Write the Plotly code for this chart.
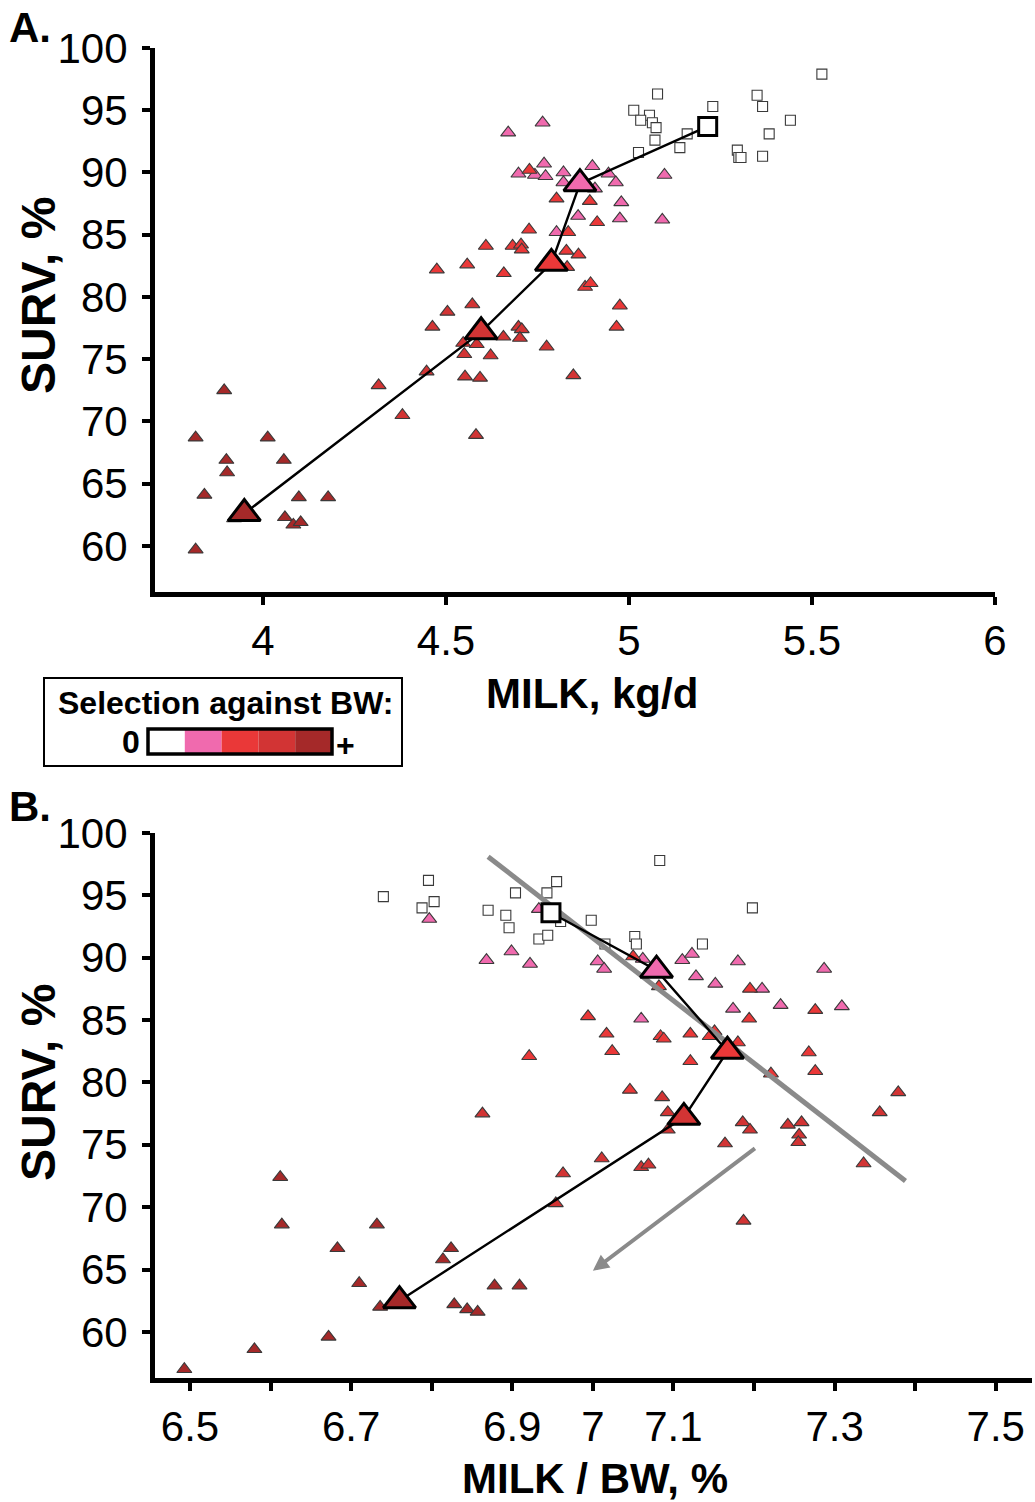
import plotly.graph_objects as go

W, H = 1035, 1502

# ---------------- data ----------------
groups = ["0", "1", "2", "3", "4"]           # selection against BW: 0 ... +
group_colors = ["#ffffff", "#f06aae", "#ea3838", "#d23434", "#a52929"]
group_symbols = ["square", "triangle-up", "triangle-up", "triangle-up", "triangle-up"]

# Panel A: MILK (kg/d) vs SURV (%)
a_x = {
    "0": [5.527, 5.078, 5.013, 5.056, 5.032, 5.064, 5.074, 5.229, 5.350, 5.365,
          5.441, 5.383, 5.296, 5.300, 5.365, 5.071, 5.026, 5.139, 5.159, 5.306],
    "1": [4.670, 4.764, 4.698, 4.768, 4.743, 4.772, 4.821, 4.821, 4.900, 4.944,
          4.964, 5.097, 4.979, 4.861, 4.975, 5.091, 4.802, 4.907],
    "2": [4.728, 4.802, 4.893, 4.913, 4.727, 4.834, 4.829, 4.862, 4.831, 4.609,
          4.682, 4.705, 4.707, 4.558, 4.475, 4.658, 4.880, 4.895, 4.975, 4.966],
    "3": [4.572, 4.504, 4.463, 4.698, 4.707, 4.702, 4.657, 4.547, 4.584, 4.550,
          4.622, 4.775, 4.447, 4.552, 4.593, 4.848, 4.582, 4.381, 4.316],
    "4": [3.816, 3.894, 3.900, 3.902, 3.840, 4.013, 4.057, 4.098, 4.178, 4.060,
          4.083, 4.103, 3.921, 3.816],
}
a_y = {
    "0": [97.9, 96.3, 95.0, 94.6, 94.2, 94.0, 93.6, 95.3, 96.2, 95.3,
          94.2, 93.1, 91.8, 91.2, 91.3, 92.6, 91.6, 92.0, 93.1, 91.2],
    "1": [93.2, 94.0, 89.9, 90.7, 89.8, 89.7, 90.0, 89.2, 90.5, 89.9,
          89.2, 89.8, 87.6, 86.5, 86.3, 86.2, 85.2, 88.7],
    "2": [90.2, 87.9, 87.7, 86.0, 85.4, 85.2, 83.7, 83.4, 82.4, 84.1,
          84.1, 84.2, 83.8, 82.6, 82.2, 81.9, 80.8, 81.1, 79.3, 77.6],
    "3": [79.4, 78.8, 77.6, 77.6, 77.4, 76.7, 76.8, 76.3, 76.2, 75.4,
          75.3, 76.0, 74.0, 73.6, 73.5, 73.7, 68.9, 70.5, 72.9],
    "4": [68.7, 72.5, 66.9, 65.9, 64.1, 68.7, 66.9, 63.9, 63.9, 62.3,
          61.7, 61.9, 62.2, 59.7],
}
a_mean_x = [5.215, 4.866, 4.788, 4.596, 3.949]
a_mean_y = [93.7, 89.1, 82.7, 77.2, 62.6]

# Panel B: MILK / BW (%) vs SURV (%)
b_x = {
    "0": [6.740, 6.796, 6.803, 6.788, 6.870, 6.892, 6.896, 6.904, 6.943, 6.955,
          6.933, 6.944, 6.960, 6.998, 7.015, 7.052, 7.054, 7.198, 7.136, 7.083],
    "1": [6.797, 6.868, 6.899, 6.922, 6.933, 7.006, 7.014, 7.060, 7.062, 7.111,
          7.123, 7.128, 7.180, 7.152, 7.210, 7.233, 7.174, 7.287, 7.309],
    "2": [7.050, 7.082, 7.195, 7.276, 7.194, 7.017, 7.024, 7.084, 7.088, 7.121,
          7.121, 7.151, 7.145, 7.180, 7.268, 7.276, 7.221, 6.994, 6.921, 7.046],
    "3": [7.086, 7.093, 7.093, 7.379, 7.356, 7.186, 7.195, 7.164, 7.242, 7.259,
          7.256, 7.255, 7.336, 7.060, 7.069, 7.011, 6.863, 6.963, 6.954, 7.187],
    "4": [6.612, 6.614, 6.732, 6.683, 6.824, 6.814, 6.710, 6.878, 6.909, 6.736,
          6.828, 6.844, 6.857, 6.672, 6.580, 6.493],
}
b_y = {
    "0": [94.9, 96.2, 94.5, 94.0, 93.8, 93.4, 92.4, 95.2, 95.2, 96.1,
          91.5, 91.8, 92.9, 93.0, 91.1, 91.7, 91.1, 94.0, 91.1, 97.8],
    "1": [93.1, 89.8, 90.5, 89.5, 93.9, 89.7, 89.1, 85.1, 89.9, 89.8,
          90.3, 88.5, 89.7, 87.9, 87.5, 86.2, 85.9, 89.1, 86.1],
    "2": [90.1, 87.7, 87.5, 85.8, 85.1, 83.9, 82.5, 83.7, 83.5, 83.9,
          81.7, 84.1, 83.7, 83.2, 82.4, 80.9, 80.7, 85.3, 82.1, 79.4],
    "3": [78.8, 77.6, 76.2, 79.2, 77.6, 76.8, 76.2, 75.1, 76.6, 76.8,
          75.8, 75.2, 73.5, 73.2, 73.4, 73.9, 77.5, 72.7, 70.3, 68.9],
    "4": [72.4, 68.6, 68.6, 66.7, 66.7, 65.8, 63.9, 63.7, 63.7, 62.0,
          62.2, 61.8, 61.6, 59.6, 58.6, 57.0],
}
b_mean_x = [6.948, 7.079, 7.167, 7.113, 6.760]
b_mean_y = [93.6, 89.0, 82.5, 77.2, 62.5]

# grey trend line and arrow in panel B
b_trend_x = [6.870, 7.388]
b_trend_y = [98.1, 72.1]
b_arrow_from = (7.203, 74.8)
b_arrow_to = (7.000, 64.9)

a_xticks = [4, 4.5, 5, 5.5, 6]
a_xticktext = ["4", "4.5", "5", "5.5", "6"]
b_xticks = [6.5, 6.6, 6.7, 6.8, 6.9, 7.0, 7.1, 7.2, 7.3, 7.4, 7.5]
b_xticktext = ["6.5", "", "6.7", "", "6.9", "7", "7.1", "", "7.3", "", "7.5"]
y_ticks = [60, 65, 70, 75, 80, 85, 90, 95, 100]

# ---------------- figure ----------------
FONT = "Liberation Sans, Arial, Helvetica, sans-serif"
fig = go.Figure()


def px(x):
    return x / W


def py(y):
    return 1 - y / H


def add_panel(xs, ys, xa, ya):
    for i, g in enumerate(groups):
        small = 10 if group_symbols[i] == "square" else 13
        fig.add_trace(go.Scatter(
            x=xs[g], y=ys[g], mode="markers", xaxis=xa, yaxis=ya,
            marker=dict(symbol=group_symbols[i], size=small, color=group_colors[i],
                        line=dict(color="#3a3a3a", width=1.1)),
            hoverinfo="x+y", showlegend=False))


add_panel(a_x, a_y, "x", "y")
add_panel(b_x, b_y, "x2", "y2")

# grey trend line (B)
fig.add_trace(go.Scatter(x=b_trend_x, y=b_trend_y, mode="lines", xaxis="x2", yaxis="y2",
                         line=dict(color="#8a8a8a", width=5), showlegend=False,
                         hoverinfo="skip"))

# mean paths: connecting line, then the large group-mean markers on top
for mx, my, xa, ya in [(a_mean_x, a_mean_y, "x", "y"), (b_mean_x, b_mean_y, "x2", "y2")]:
    fig.add_trace(go.Scatter(x=mx, y=my, mode="lines", xaxis=xa, yaxis=ya,
                             line=dict(color="black", width=2.4), showlegend=False,
                             hoverinfo="skip"))
    for i in range(len(groups)):
        fig.add_trace(go.Scatter(
            x=[mx[i]], y=[my[i]], mode="markers", xaxis=xa, yaxis=ya,
            marker=dict(symbol=group_symbols[i], size=18 if i == 0 else 28,
                        color=group_colors[i], opacity=1,
                        line=dict(color="black", width=3)),
            showlegend=False))

axis_common = dict(showline=True, linewidth=5, linecolor="black", ticks="outside",
                   ticklen=8, tickwidth=4, tickcolor="black", showgrid=False,
                   zeroline=False, tickfont=dict(family=FONT, size=42, color="black"))

fig.update_layout(
    width=W, height=H, margin=dict(l=0, r=0, t=0, b=0, autoexpand=False),
    paper_bgcolor="white", plot_bgcolor="white", showlegend=False,
    xaxis=dict(domain=[px(155), px(995)], range=[3.705, 6.0], anchor="y",
               tickvals=a_xticks, ticktext=a_xticktext, ticklabelstandoff=0, **axis_common),
    yaxis=dict(domain=[py(592), py(48)], range=[56.3, 100], anchor="x",
               tickvals=y_ticks, ticklabelstandoff=6, **axis_common),
    xaxis2=dict(domain=[px(155), px(1032)], range=[6.4566, 7.545], anchor="y2",
                tickvals=b_xticks, ticktext=b_xticktext, ticklabelstandoff=0, **axis_common),
    yaxis2=dict(domain=[py(1378), py(833)], range=[56.3, 100], anchor="x2",
                tickvals=y_ticks, ticklabelstandoff=6, **axis_common),
)

ann = []


def text(x, y, s, size, angle=0):
    ann.append(dict(x=px(x), y=py(y), xref="paper", yref="paper", text=s, showarrow=False,
                    textangle=angle, xanchor="center", yanchor="middle",
                    font=dict(family=FONT, size=size, color="black")))


text(30, 28, "<b>A.</b>", 42)
text(30, 806, "<b>B.</b>", 42)
text(38, 296, "<b>SURV, %</b>", 48, -90)
text(38, 1083, "<b>SURV, %</b>", 48, -90)
text(592, 693, "<b>MILK, kg/d</b>", 42)
text(595, 1478, "<b>MILK / BW, %</b>", 42)
text(225, 703, "<b>Selection against BW:</b>", 32)
text(131, 742, "<b>0</b>", 32)
text(345, 745, "<b>+</b>", 32)

# arrow (B)
ann.append(dict(x=b_arrow_to[0], y=b_arrow_to[1], ax=b_arrow_from[0], ay=b_arrow_from[1],
                xref="x2", yref="y2", axref="x2", ayref="y2", text="", showarrow=True,
                arrowhead=2, arrowsize=0.8, arrowwidth=4, arrowcolor="#8a8a8a"))
fig.update_layout(annotations=ann)

# legend box with colour scale
shapes = [dict(type="rect", xref="paper", yref="paper", x0=px(44), x1=px(402),
               y0=py(766), y1=py(678), line=dict(color="black", width=2),
               fillcolor="white", layer="below")]
sw0, sw1 = 148, 332
step = (sw1 - sw0) / len(group_colors)
for i, c in enumerate(group_colors):
    shapes.append(dict(type="rect", xref="paper", yref="paper",
                       x0=px(sw0 + i * step), x1=px(sw0 + (i + 1) * step),
                       y0=py(754), y1=py(729), fillcolor=c, line=dict(width=0)))
shapes.append(dict(type="rect", xref="paper", yref="paper", x0=px(sw0), x1=px(sw1),
                   y0=py(754), y1=py(729), line=dict(color="black", width=3.5)))
fig.update_layout(shapes=shapes)

fig.write_html("out.html", config={"displayModeBar": False},
               post_script="document.body.style.margin='0';"
                           "document.documentElement.style.overflow='hidden';")
